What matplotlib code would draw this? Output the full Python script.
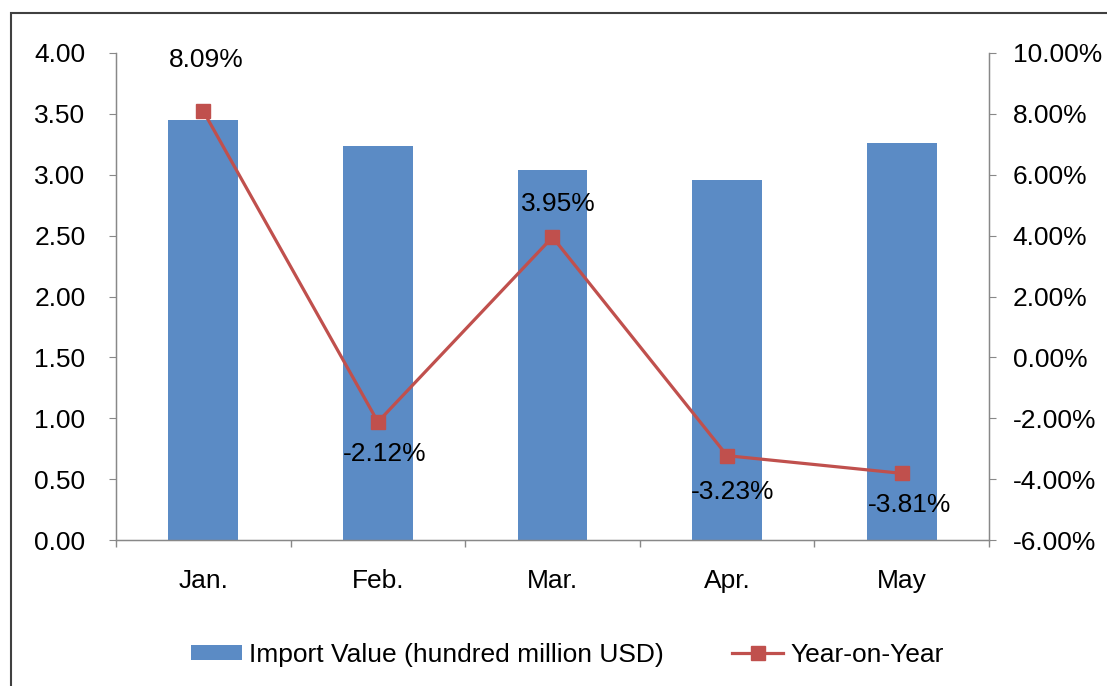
import matplotlib
matplotlib.use("Agg")
import matplotlib.pyplot as plt
from matplotlib.patches import Rectangle
from matplotlib.ticker import FuncFormatter, FixedLocator

plt.rcParams['font.family'] = ['Liberation Sans', 'DejaVu Sans']

categories = ["Jan.", "Feb.", "Mar.", "Apr.", "May"]
import_value = [3.45, 3.24, 3.04, 2.96, 3.26]
yoy = [8.09, -2.12, 3.95, -3.23, -3.81]
yoy_labels = ["8.09%", "-2.12%", "3.95%", "-3.23%", "-3.81%"]
label_offsets = [(2, 37), (5, -23), (4, 24), (4, -26), (6, -23)]

bar_color = "#5B8BC5"
line_color = "#C0504D"
axis_color = "#888888"
FS = 19

fig = plt.figure(figsize=(11.07, 6.86), dpi=100)
fig.patches.append(Rectangle((11/1107, -0.1), 1.2, 1 - 13/686 + 0.1, transform=fig.transFigure,
                             fill=False, edgecolor="#404040", linewidth=1.5, zorder=0))

ax = fig.add_axes([116/1107, 1 - 540/686, (989-116)/1107, (540-53)/686])
x = list(range(len(categories)))
ax.bar(x, import_value, width=0.4, color=bar_color, zorder=2, label="Import Value (hundred million USD)")
ax.set_xlim(-0.5, len(categories) - 0.5)
ax.set_ylim(0, 4)
ax.set_yticks([i * 0.5 for i in range(9)])
ax.yaxis.set_major_formatter(FuncFormatter(lambda v, p: f"{v:.2f}"))
ax.set_xticks(x)
ax.set_xticklabels(categories)
ax.xaxis.set_minor_locator(FixedLocator([i - 0.5 for i in range(len(categories) + 1)]))
ax.tick_params(axis='x', which='major', length=0, pad=21, labelsize=FS)
ax.tick_params(axis='x', which='minor', length=5, color=axis_color, width=1)
ax.tick_params(axis='y', length=5, color=axis_color, labelsize=FS, pad=17)
ax.spines['top'].set_visible(False)
for s in ['left', 'bottom', 'right']:
    ax.spines[s].set_color(axis_color)
    ax.spines[s].set_linewidth(1)

ax2 = ax.twinx()
ax2.plot(x, yoy, color=line_color, linewidth=2.3, marker='s', markersize=9.5, zorder=3, label="Year-on-Year")
ax2.set_ylim(-6, 10)
ax2.set_yticks(list(range(-6, 11, 2)))
ax2.yaxis.set_major_formatter(FuncFormatter(lambda v, p: f"{v:.2f}%"))
ax2.tick_params(axis='y', length=5, color=axis_color, labelsize=FS, pad=12)
ax2.spines['top'].set_visible(False)
for s in ['left', 'bottom', 'right']:
    ax2.spines[s].set_color(axis_color)

for xi, yi, lab, off in zip(x, yoy, yoy_labels, label_offsets):
    ax2.annotate(lab, (xi, yi), xytext=off, textcoords='offset points',
                 ha='center', va='center', fontsize=FS, color='#000000')

h1, l1 = ax.get_legend_handles_labels()
h2, l2 = ax2.get_legend_handles_labels()
fig.legend(h1 + h2, l1 + l2, loc='center', bbox_to_anchor=(567/1107, 1 - 655/686), ncol=2,
           frameon=False, fontsize=FS, handlelength=1.95, handleheight=0.53, columnspacing=2.6,
           handletextpad=0.25)

fig.savefig("out.png", dpi=100)
